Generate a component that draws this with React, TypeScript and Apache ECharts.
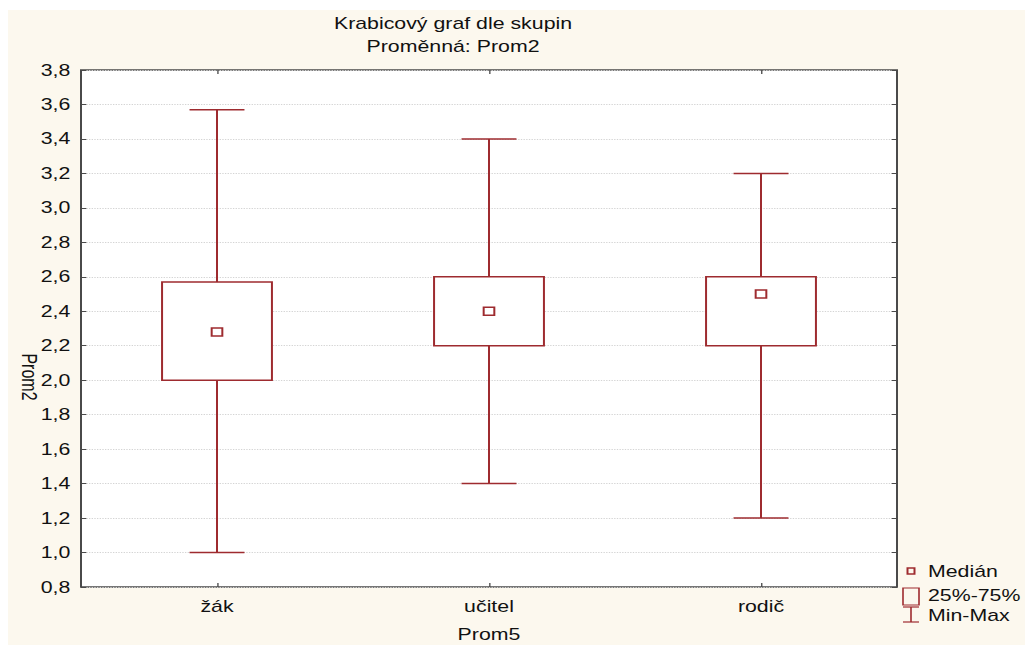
import { useEffect, useRef } from "react";
import * as echarts from "echarts";

// Groups and five-number summaries of Prom2 per group
const groups = ["žák", "učitel", "rodič"];
const minValues = [1.0, 1.4, 1.2];
const q1Values = [2.0, 2.2, 2.2];
const medianValues = [2.28, 2.4, 2.5];
const q3Values = [2.57, 2.6, 2.6];
const maxValues = [3.57, 3.4, 3.2];

// Value axis range and step
const yMin = 0.8;
const yMax = 3.8;
const yStep = 0.2;

// Legend entries
const legendLabels = ["Medián", "25%-75%", "Min-Max"];

const RED = "#9E2B2F";
const AXIS = "#4a4a4a";
const FONT = '"Liberation Sans", Arial, sans-serif';

// The chart is laid out on a narrower canvas and widened horizontally with CSS.
const CANVAS_W = 769;
const CANVAS_H = 645;
const STRETCH = 1025 / CANVAS_W;
const sx = (px: number) => px / STRETCH;

export default function App() {
  const ref = useRef<HTMLDivElement>(null);

  useEffect(() => {
    if (!ref.current) return;
    const chart = echarts.init(ref.current, undefined, { renderer: "svg" });

    const rows = groups.map((_, i) => [
      i,
      minValues[i],
      q1Values[i],
      medianValues[i],
      q3Values[i],
      maxValues[i],
    ]);

    const renderItem = (_params: any, api: any) => {
      const idx = api.value(0);
      const band = api.size([1, 0])[0];
      const x = api.coord([idx, 0])[0];
      const yLo = api.coord([idx, api.value(1)])[1];
      const yQ1 = api.coord([idx, api.value(2)])[1];
      const yMed = api.coord([idx, api.value(3)])[1];
      const yQ3 = api.coord([idx, api.value(4)])[1];
      const yHi = api.coord([idx, api.value(5)])[1];
      const boxW = band * 0.404;
      const capW = band * 0.202;
      const m = 8;
      const lineStyle = { stroke: RED, lineWidth: 1.5, fill: "none" };
      return {
        type: "group",
        children: [
          { type: "line", shape: { x1: x, y1: yHi, x2: x, y2: yQ3 }, style: lineStyle },
          { type: "line", shape: { x1: x, y1: yQ1, x2: x, y2: yLo }, style: lineStyle },
          { type: "line", shape: { x1: x - capW / 2, y1: yHi, x2: x + capW / 2, y2: yHi }, style: lineStyle },
          { type: "line", shape: { x1: x - capW / 2, y1: yLo, x2: x + capW / 2, y2: yLo }, style: lineStyle },
          {
            type: "rect",
            shape: { x: x - boxW / 2, y: yQ3, width: boxW, height: yQ1 - yQ3 },
            style: { stroke: RED, lineWidth: 1.5, fill: "#ffffff" },
          },
          {
            type: "rect",
            shape: { x: x - m / 2, y: yMed - m / 2, width: m, height: m },
            style: { stroke: RED, lineWidth: 1.5, fill: "#ffffff" },
          },
        ],
      };
    };

    const text = (t: string, x: number, y: number, align: string, extra: any = {}) => ({
      type: "text",
      x,
      y,
      z: 10,
      silent: true,
      ...extra,
      style: {
        text: t,
        fill: "#111111",
        font: `16px ${FONT}`,
        textAlign: align,
        align,
        textVerticalAlign: "middle",
        verticalAlign: "middle",
      },
    });

    const legendX0 = sx(903);
    const legendX1 = sx(919);
    const legendMid = (legendX0 + legendX1) / 2;
    const legendTextX = sx(928);

    chart.setOption({
      animation: false,
      backgroundColor: "#ffffff",
      textStyle: { fontFamily: FONT },
      grid: {
        left: sx(81),
        right: CANVAS_W - sx(897),
        top: 70,
        bottom: 58,
        outerBoundsMode: "none",
        containLabel: false,
        show: true,
        backgroundColor: "#ffffff",
        borderColor: AXIS,
        borderWidth: 1.5,
      },
      xAxis: [
        {
          type: "category",
          data: groups,
          position: "bottom",
          axisLine: { show: false },
          axisTick: { show: true, inside: true, length: 4, alignWithLabel: true, lineStyle: { color: AXIS } },
          axisLabel: { color: "#111111", fontSize: 16, margin: 11, fontFamily: FONT },
          splitLine: { show: false },
          name: "Prom5",
          nameLocation: "middle",
          nameGap: 39,
          nameTextStyle: { color: "#111111", fontSize: 16, lineHeight: 16, fontFamily: FONT },
        },
        {
          type: "category",
          data: groups,
          position: "top",
          axisLine: { show: false },
          axisTick: { show: true, inside: true, length: 4, alignWithLabel: true, lineStyle: { color: AXIS } },
          axisLabel: { show: false },
          splitLine: { show: false },
        },
      ],
      yAxis: [
        {
          type: "value",
          min: yMin,
          max: yMax,
          interval: yStep,
          position: "left",
          axisLine: { show: false },
          axisTick: { show: true, inside: true, length: 4, lineStyle: { color: AXIS } },
          axisLabel: {
            color: "#111111",
            fontSize: 16,
            margin: 8,
            fontFamily: FONT,
            formatter: (v: number) => v.toFixed(1).replace(".", ","),
          },
          splitLine: { show: true, lineStyle: { color: "#d4d4d4", type: "dotted", width: 1 } },
        },
        {
          type: "value",
          min: yMin,
          max: yMax,
          interval: yStep,
          position: "right",
          axisLine: { show: false },
          axisTick: { show: true, inside: true, length: 4, lineStyle: { color: AXIS } },
          axisLabel: { show: false },
          splitLine: { show: false },
        },
      ],
      series: [
        {
          type: "custom",
          name: "Prom2",
          xAxisIndex: 0,
          yAxisIndex: 0,
          clip: false,
          z: 5,
          encode: { x: 0, y: [1, 2, 3, 4, 5] },
          data: rows,
          renderItem,
        },
      ],
      graphic: [
        {
          type: "rect",
          z: -10,
          silent: true,
          shape: { x: sx(8), y: 10, width: CANVAS_W, height: CANVAS_H },
          style: { fill: "#FCF8EE" },
        },
        text("Krabicový graf dle skupin", sx(453), 23, "center"),
        text("Proměnná: Prom2", sx(453), 46, "center"),
        text("Prom2", sx(29), 377, "center", { rotation: -Math.PI / 2 }),
        // legend: median marker
        {
          type: "rect",
          z: 10,
          silent: true,
          shape: { x: legendMid - sx(7) / 2, y: 568, width: sx(7), height: 6 },
          style: { stroke: RED, lineWidth: 1.5, fill: "none" },
        },
        text(legendLabels[0], legendTextX, 571, "left"),
        // legend: interquartile box
        {
          type: "rect",
          z: 10,
          silent: true,
          shape: { x: legendX0, y: 588, width: legendX1 - legendX0, height: 17 },
          style: { stroke: RED, lineWidth: 1.2, fill: "none" },
        },
        text(legendLabels[1], legendTextX, 595, "left"),
        // legend: whisker
        {
          type: "group",
          z: 10,
          silent: true,
          children: [
            { type: "line", z: 10, shape: { x1: legendX0, y1: 607, x2: legendX1, y2: 607 }, style: { stroke: RED, lineWidth: 1.2 } },
            { type: "line", z: 10, shape: { x1: legendX0, y1: 622, x2: legendX1, y2: 622 }, style: { stroke: RED, lineWidth: 1.2 } },
            { type: "line", z: 10, shape: { x1: legendMid, y1: 607, x2: legendMid, y2: 622 }, style: { stroke: RED, lineWidth: 1.2 } },
          ],
        },
        text(legendLabels[2], legendTextX, 615, "left"),
      ],
    });

    return () => chart.dispose();
  }, []);

  return (
    <div
      style={{
        position: "fixed",
        left: 0,
        top: 0,
        width: 1025,
        height: CANVAS_H,
        overflow: "hidden",
        background: "#ffffff",
      }}
    >
      <div
        ref={ref}
        style={{
          width: CANVAS_W,
          height: CANVAS_H,
          transform: `scaleX(${STRETCH})`,
          transformOrigin: "0 0",
        }}
      />
    </div>
  );
}
